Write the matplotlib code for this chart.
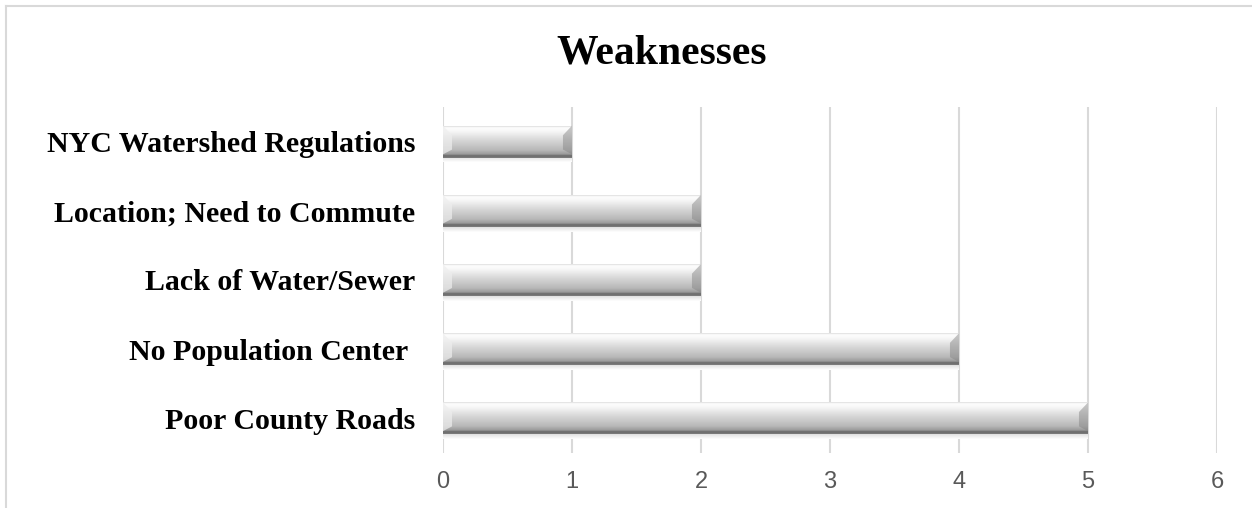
import numpy as np
import matplotlib.pyplot as plt
from matplotlib.colors import LinearSegmentedColormap
from matplotlib.patches import Polygon
from matplotlib.lines import Line2D

# данные (снизу вверх)
categories = ['Poor County Roads', 'No Population Center ', 'Lack of Water/Sewer',
              'Location; Need to Commute', 'NYC Watershed Regulations']
values = [5, 4, 2, 2, 1]
x_ticks = [0, 1, 2, 3, 4, 5, 6]

BAR_H = 0.46
BEVEL_X = 0.07

# вертикальный градиент "объёмного" столбика: сверху светлый, снизу тёмная кромка
bar_cmap = LinearSegmentedColormap.from_list('bevel', [
    (0.00, '#7d7d7d'),
    (0.07, '#6a6a6a'),
    (0.12, '#9a9a9a'),
    (0.25, '#b8b8b8'),
    (0.55, '#d6d6d6'),
    (0.85, '#f8f8f8'),
    (0.95, '#fdfdfd'),
    (1.00, '#dcdcdc'),
])
shadow_cmap = LinearSegmentedColormap.from_list('sh', ['#ffffff', '#e0e0e0'])
grad = np.linspace(0, 1, 256).reshape(-1, 1)

fig = plt.figure(figsize=(12.52, 5.08), dpi=100)
ax = fig.add_axes([443 / 1252, 1 - 453 / 508, 774 / 1252, 346 / 508])

for i, v in enumerate(values):
    y0, y1 = i - BAR_H / 2, i + BAR_H / 2
    h = BAR_H
    # мягкая тень под столбиком
    ax.imshow(np.linspace(0, 1, 64).reshape(-1, 1), cmap=shadow_cmap, aspect='auto',
              origin='lower', extent=(0, v, y0 - 0.07, y0), zorder=2)
    ax.imshow(grad, cmap=bar_cmap, aspect='auto', origin='lower',
              extent=(0, v, y0, y1), zorder=3)
    # скосы по краям
    ax.add_patch(Polygon([(0, y1), (BEVEL_X, y1 - 0.3 * h), (BEVEL_X, y0 + 0.25 * h), (0, y0 + 0.1 * h)],
                         closed=True, facecolor='#eeeeee', alpha=0.7, edgecolor='none', zorder=4))
    ax.add_patch(Polygon([(v, y1), (v - BEVEL_X, y1 - 0.3 * h), (v - BEVEL_X, y0 + 0.25 * h), (v, y0 + 0.1 * h)],
                         closed=True, facecolor='#808080', alpha=0.45, edgecolor='none', zorder=4))

ax.set_xlim(0, 6)
ax.set_ylim(-0.5, len(categories) - 0.5)
ax.set_xticks(x_ticks)
ax.set_xticklabels([str(t) for t in x_ticks], fontsize=17, color='#595959',
                   family=['Liberation Sans', 'DejaVu Sans'])
ax.set_yticks(range(len(categories)))
ax.set_yticklabels(categories, fontsize=21.5, fontweight='bold', color='black',
                   family=['Liberation Serif', 'DejaVu Serif'])
ax.tick_params(axis='both', length=0)
ax.tick_params(axis='x', pad=13)
ax.tick_params(axis='y', pad=20)
ax.grid(axis='x', color='#d9d9d9', linewidth=1.5, zorder=0)
ax.set_axisbelow(True)
for s in ax.spines.values():
    s.set_visible(False)

fig.text(662 / 1252, 1 - 63 / 508, 'Weaknesses', ha='center', va='baseline',
         fontsize=30, fontweight='bold', family=['Liberation Serif', 'DejaVu Serif'])

# рамка диаграммы (видны левая и верхняя стороны)
fig.add_artist(Line2D([6 / 1252, 6 / 1252], [0, 1 - 6 / 508], transform=fig.transFigure,
                      color='#d9d9d9', linewidth=1.5))
fig.add_artist(Line2D([6 / 1252, 1], [1 - 6 / 508, 1 - 6 / 508], transform=fig.transFigure,
                      color='#d9d9d9', linewidth=1.5))

fig.savefig('out.png', dpi=100)
